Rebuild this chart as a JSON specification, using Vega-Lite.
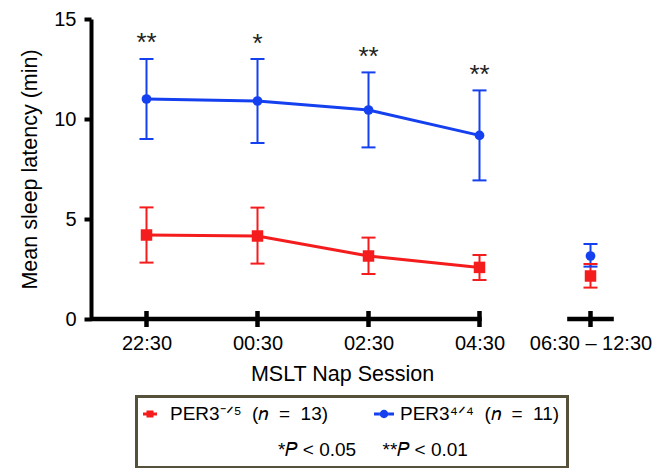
{
  "$schema": "https://vega.github.io/schema/vega-lite/v6.json",
  "autosize": {"type": "none"},
  "padding": {"left": 91, "top": 19, "right": 15, "bottom": 149},
  "width": 555,
  "height": 300,
  "background": "white",
  "config": {
    "view": {"stroke": null},
    "font": "Liberation Sans",
    "axis": {
      "grid": false,
      "domainColor": "black",
      "domainWidth": 4,
      "tickColor": "black",
      "tickWidth": 4,
      "tickSize": 7,
      "labelFont": "Liberation Sans",
      "labelFontSize": 20,
      "labelColor": "black",
      "titleFont": "Liberation Sans",
      "titleFontSize": 21.5,
      "titleFontWeight": "normal",
      "titleColor": "black"
    }
  },
  "datasets": {
    "sessions": [
      {"session": "22:30", "pos": 1, "group": "PER3⁻ᐟ⁵\u00a0\u00a0(𝑛\u00a0\u00a0=\u00a0\u00a013)", "mean": 4.2, "lo": 2.82, "hi": 5.58},
      {"session": "00:30", "pos": 2, "group": "PER3⁻ᐟ⁵\u00a0\u00a0(𝑛\u00a0\u00a0=\u00a0\u00a013)", "mean": 4.15, "lo": 2.77, "hi": 5.57},
      {"session": "02:30", "pos": 3, "group": "PER3⁻ᐟ⁵\u00a0\u00a0(𝑛\u00a0\u00a0=\u00a0\u00a013)", "mean": 3.15, "lo": 2.25, "hi": 4.07},
      {"session": "04:30", "pos": 4, "group": "PER3⁻ᐟ⁵\u00a0\u00a0(𝑛\u00a0\u00a0=\u00a0\u00a013)", "mean": 2.58, "lo": 1.95, "hi": 3.2},
      {"session": "06:30 – 12:30", "pos": 5, "group": "PER3⁻ᐟ⁵\u00a0\u00a0(𝑛\u00a0\u00a0=\u00a0\u00a013)", "mean": 2.15, "lo": 1.57, "hi": 2.75},
      {"session": "22:30", "pos": 1, "group": "PER3⁴ᐟ⁴\u00a0\u00a0(𝑛\u00a0\u00a0=\u00a0\u00a011)", "mean": 11.0, "lo": 9.0, "hi": 13.0},
      {"session": "00:30", "pos": 2, "group": "PER3⁴ᐟ⁴\u00a0\u00a0(𝑛\u00a0\u00a0=\u00a0\u00a011)", "mean": 10.9, "lo": 8.8, "hi": 13.0},
      {"session": "02:30", "pos": 3, "group": "PER3⁴ᐟ⁴\u00a0\u00a0(𝑛\u00a0\u00a0=\u00a0\u00a011)", "mean": 10.45, "lo": 8.58, "hi": 12.33},
      {"session": "04:30", "pos": 4, "group": "PER3⁴ᐟ⁴\u00a0\u00a0(𝑛\u00a0\u00a0=\u00a0\u00a011)", "mean": 9.18, "lo": 6.93, "hi": 11.43},
      {"session": "06:30 – 12:30", "pos": 5, "group": "PER3⁴ᐟ⁴\u00a0\u00a0(𝑛\u00a0\u00a0=\u00a0\u00a011)", "mean": 3.15, "lo": 2.62, "hi": 3.75}
    ],
    "stars": [
      {"pos": 1, "y": 13.4, "label": "**"},
      {"pos": 2, "y": 13.35, "label": "*"},
      {"pos": 3, "y": 12.7, "label": "**"},
      {"pos": 4, "y": 11.8, "label": "**"}
    ]
  },
  "layer": [
    {
      "data": {"values": [{}]},
      "mark": {"type": "rule", "color": "black", "strokeWidth": 4.5},
      "encoding": {
        "x": {"datum": 0.5, "type": "quantitative", "scale": {"domain": [0.5, 5.5], "nice": false, "zero": false},
          "axis": {"domain": false, "ticks": false, "values": [1, 2, 3, 4, 5],
            "labelExpr": "['', '22:30', '00:30', '02:30', '04:30', '06:30 – 12:30'][datum.value]",
            "labelPadding": 14, "labelFlush": false, "labelOverlap": false,
            "title": "MSLT Nap Session", "titlePadding": 10, "titleX": 251}},
        "x2": {"datum": 4.02},
        "y": {"datum": 0, "type": "quantitative", "scale": {"domain": [0, 15], "nice": false},
          "axis": {"values": [0, 5, 10, 15], "title": "Mean sleep latency (min)", "labelPadding": 8, "titlePadding": 12}}
      }
    },
    {
      "data": {"values": [{}]},
      "mark": {"type": "rule", "color": "black", "strokeWidth": 4.5},
      "encoding": {
        "x": {"datum": 4.79, "type": "quantitative"},
        "x2": {"datum": 5.21},
        "y": {"datum": 0, "type": "quantitative"}
      }
    },
    {
      "data": {"name": "sessions"},
      "mark": {"type": "rule", "color": "black", "strokeWidth": 4},
      "encoding": {
        "x": {"field": "pos", "type": "quantitative"},
        "y": {"datum": -0.4, "type": "quantitative"},
        "y2": {"datum": 0.4}
      }
    },
    {
      "data": {"name": "sessions"},
      "mark": {"type": "rule", "strokeWidth": 2},
      "encoding": {
        "x": {"field": "pos", "type": "quantitative"},
        "y": {"field": "lo", "type": "quantitative"},
        "y2": {"field": "hi"},
        "color": {"field": "group", "type": "nominal"}
      }
    },
    {
      "data": {"name": "sessions"},
      "mark": {"type": "tick", "orient": "horizontal", "size": 14, "thickness": 2, "opacity": 1},
      "encoding": {
        "x": {"field": "pos", "type": "quantitative"},
        "y": {"field": "lo", "type": "quantitative"},
        "color": {"field": "group", "type": "nominal"}
      }
    },
    {
      "data": {"name": "sessions"},
      "mark": {"type": "tick", "orient": "horizontal", "size": 14, "thickness": 2, "opacity": 1},
      "encoding": {
        "x": {"field": "pos", "type": "quantitative"},
        "y": {"field": "hi", "type": "quantitative"},
        "color": {"field": "group", "type": "nominal"}
      }
    },
    {
      "data": {"name": "sessions"},
      "transform": [{"filter": "datum.pos <= 4"}],
      "mark": {"type": "line", "strokeWidth": 3},
      "encoding": {
        "x": {"field": "pos", "type": "quantitative"},
        "y": {"field": "mean", "type": "quantitative"},
        "color": {
          "field": "group", "type": "nominal",
          "scale": {"domain": ["PER3⁻ᐟ⁵\u00a0\u00a0(𝑛\u00a0\u00a0=\u00a0\u00a013)", "PER3⁴ᐟ⁴\u00a0\u00a0(𝑛\u00a0\u00a0=\u00a0\u00a011)"], "range": ["#f41c1c", "#1440f0"]},
          "legend": {
            "orient": "none", "legendX": 45.5, "legendY": 377.5,
            "direction": "horizontal", "columns": 2,
            "title": "*𝑃 < 0.05\u00a0\u00a0\u00a0\u00a0 **𝑃 < 0.01",
            "titleOrient": "bottom", "titleAnchor": "middle",
            "titleFont": "Liberation Sans", "titleFontSize": 19, "titleFontWeight": "normal", "titleColor": "black",
            "titlePadding": 17, "titleLimit": 600,
            "labelFont": "Liberation Sans", "labelFontSize": 19, "labelColor": "black", "labelOffset": 6, "labelLimit": 400,
            "symbolSize": 400, "columnPadding": 45, "padding": 7.5,
            "strokeColor": "#55513a",
            "encode": {
              "legend": {"update": {"strokeWidth": {"value": 3}}},
              "title": {"update": {"dx": {"value": 21}}},
              "symbols": {"update": {
                "shape": {"signal": "datum.index === 0 ? 'M-1.1,-0.15H-0.75V-0.35H-0.05V-0.15H0.3V0.15H-0.05V0.35H-0.75V0.15H-1.1Z' : 'M-1,-0.15H-0.4V0.15H-1Z M0.4,-0.15H1V0.15H0.4Z M-0.42,0A0.42,0.42 0 1,0 0.42,0A0.42,0.42 0 1,0 -0.42,0Z'"},
                "fill": {"signal": "scale('color', datum.value)"},
                "strokeWidth": {"value": 0},
                "opacity": {"value": 1}
              }}
            }
          }
        }
      }
    },
    {
      "data": {"name": "sessions"},
      "transform": [{"filter": "indexof(datum.group, '13') >= 0"}],
      "mark": {"type": "point", "filled": true, "opacity": 1, "shape": "square", "size": 132},
      "encoding": {
        "x": {"field": "pos", "type": "quantitative"},
        "y": {"field": "mean", "type": "quantitative"},
        "color": {"field": "group", "type": "nominal"}
      }
    },
    {
      "data": {"name": "sessions"},
      "transform": [{"filter": "indexof(datum.group, '11') >= 0"}],
      "mark": {"type": "point", "filled": true, "opacity": 1, "shape": "circle", "size": 95},
      "encoding": {
        "x": {"field": "pos", "type": "quantitative"},
        "y": {"field": "mean", "type": "quantitative"},
        "color": {"field": "group", "type": "nominal"}
      }
    },
    {
      "data": {"name": "stars"},
      "mark": {"type": "text", "fontSize": 26, "baseline": "alphabetic", "align": "center", "color": "#222"},
      "encoding": {
        "x": {"field": "pos", "type": "quantitative"},
        "y": {"field": "y", "type": "quantitative"},
        "text": {"field": "label"}
      }
    }
  ]
}
